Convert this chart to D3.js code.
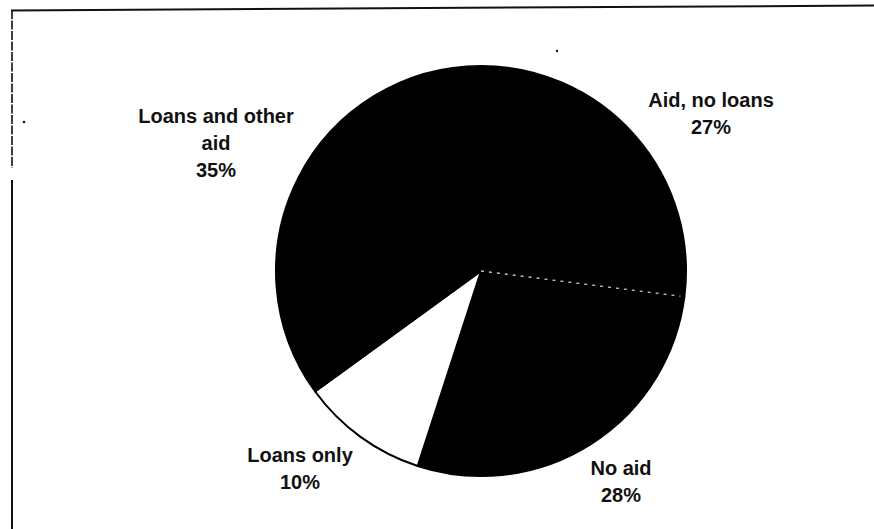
<!DOCTYPE html>
<html>
<head>
<meta charset="utf-8">
<script src="https://cdn.jsdelivr.net/npm/d3@7"></script>
<style>
  html, body { margin: 0; padding: 0; background: #fff; }
  svg { display: block; }
  text { font-family: "Liberation Sans", Arial, sans-serif; font-weight: bold; font-size: 20px; fill: #111; }
</style>
</head>
<body>
<svg id="chart" width="874" height="529"></svg>
<script>
// Data
const categories = ["Aid, no loans", "No aid", "Loans only", "Loans and other aid"];
const values = [27, 28, 10, 35];
const labelLines = [["Aid, no loans", "27%"], ["No aid", "28%"], ["Loans only", "10%"], ["Loans and other", "aid", "35%"]];
const fills = ["#000", "#000", "#fff", "#000"];

const svg = d3.select("#chart");
const cx = 481, cy = 271, R = 205;

// frame (scanned border)
svg.append("line").attr("x1", 11).attr("y1", 10.5).attr("x2", 874).attr("y2", 5.5)
  .attr("stroke", "#111").attr("stroke-width", 2);
svg.append("line").attr("x1", 12).attr("y1", 10).attr("x2", 12).attr("y2", 168)
  .attr("stroke", "#111").attr("stroke-width", 1.6).attr("stroke-dasharray", "9,1.5");
svg.append("line").attr("x1", 12).attr("y1", 180).attr("x2", 12).attr("y2", 529)
  .attr("stroke", "#111").attr("stroke-width", 2);
svg.append("circle").attr("cx", 24).attr("cy", 122).attr("r", 1.3).attr("fill", "#111");
svg.append("circle").attr("cx", 557).attr("cy", 51).attr("r", 1.2).attr("fill", "#111");

const data = categories.map((c, i) => ({ name: c, value: values[i], fill: fills[i], lines: labelLines[i] }));
const pie = d3.pie().value(d => d.value).sort(null);
const arcs = pie(data);
const arc = d3.arc().innerRadius(0).outerRadius(R);

const g = svg.append("g").attr("transform", `translate(${cx},${cy})`);
g.selectAll("path.slice").data(arcs).join("path")
  .attr("class", "slice")
  .attr("d", arc)
  .attr("fill", d => d.data.fill)
  .attr("stroke", "#000")
  .attr("stroke-width", 2)
  .attr("stroke-linejoin", "round");

// faint scanned boundary between first two slices
const a = arcs[0].endAngle;
g.append("line")
  .attr("x1", 0).attr("y1", 0)
  .attr("x2", Math.sin(a) * (R - 4)).attr("y2", -Math.cos(a) * (R - 4))
  .attr("stroke", "#ccc").attr("stroke-width", 1.3).attr("stroke-dasharray", "3,5");

// labels
const labelPos = [[711, 107], [621, 475], [300, 462], [216, 123]];
const lineH = 27;
data.forEach((d, i) => {
  const t = svg.append("text").attr("text-anchor", "middle");
  d.lines.forEach((ln, j) => {
    t.append("tspan").attr("x", labelPos[i][0]).attr("y", labelPos[i][1] + j * lineH).text(ln);
  });
});
</script>
</body>
</html>
